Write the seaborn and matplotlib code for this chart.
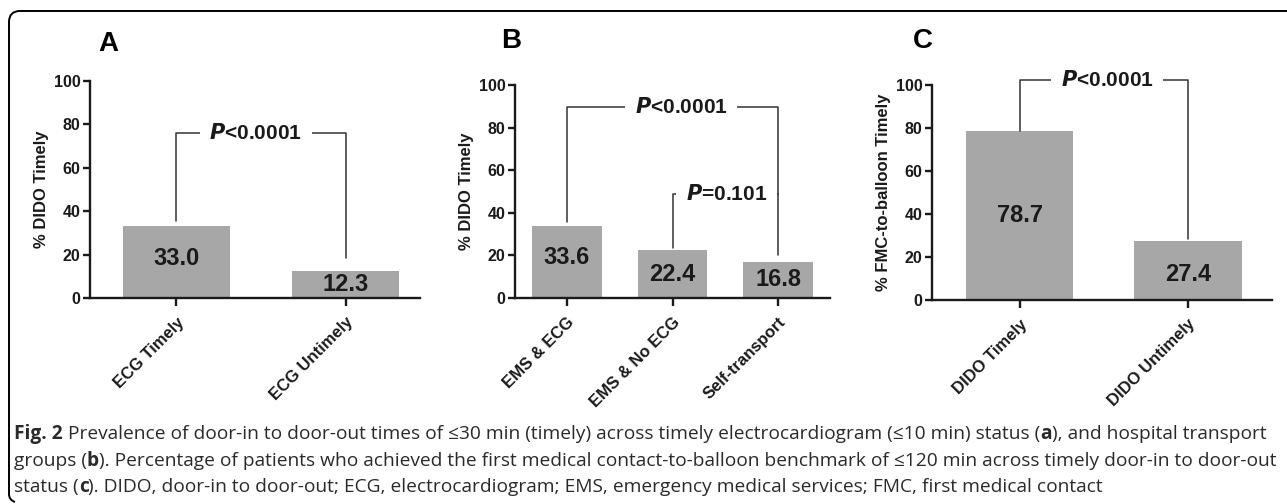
import matplotlib
matplotlib.use("Agg")
import matplotlib.pyplot as plt
import matplotlib.font_manager as fm
from matplotlib.path import Path
from matplotlib.patches import PathPatch
import seaborn as sns

# panel A: timely ECG status
cats_a = ["ECG Timely", "ECG Untimely"]
vals_a = [33.0, 12.3]
# panel B: transport groups
cats_b = ["EMS & ECG", "EMS & No ECG", "Self-transport"]
vals_b = [33.6, 22.4, 16.8]
# panel C: FMC-to-balloon by DIDO status
cats_c = ["DIDO Timely", "DIDO Untimely"]
vals_c = [78.7, 27.4]

W, H = 1287, 504
BAR = "#a7a7a7"
INK = "#1a1a1a"

sns.set_style("ticks")
plt.rcParams["font.family"] = ["Liberation Sans", "DejaVu Sans"]
plt.rcParams["font.weight"] = "bold"

CAP_REG = fm.FontProperties(family=["Open Sans", "DejaVu Sans"], weight="normal")
CAP_BOLD = fm.FontProperties(family=["Open Sans", "DejaVu Sans"], weight="bold")


def px(x0, y0, x1, y1):
    """pixel box (top-left origin) -> figure fraction rect"""
    return [x0 / W, 1 - y1 / H, (x1 - x0) / W, (y1 - y0) / H]


def panel(fig, rect, cats, vals, xlim, width, ylabel, letter, letter_xy, lab_y):
    ax = fig.add_axes(rect)
    ax.set_facecolor("none")
    sns.barplot(x=cats, y=vals, ax=ax, color=BAR, saturation=1,
                width=width, edgecolor="none")
    ax.set_xlim(*xlim)
    ax.set_ylim(0, 100)
    ax.set_yticks([0, 20, 40, 60, 80, 100])
    sns.despine(ax=ax)
    for s in ("left", "bottom"):
        ax.spines[s].set_linewidth(1.7)
        ax.spines[s].set_color(INK)
    ax.tick_params(axis="y", width=1.7, length=5, color=INK,
                   labelsize=11.5, labelcolor=INK, pad=2)
    ax.tick_params(axis="x", width=1.7, length=6, color=INK,
                   labelsize=12, labelcolor=INK, pad=6)
    ax.set_xticks(range(len(cats)))
    ax.set_xticklabels(cats, rotation=45, ha="right", va="top",
                       rotation_mode="anchor", fontsize=12, fontweight="bold")
    for t in ax.get_yticklabels():
        t.set_fontweight("bold")
    ax.set_ylabel(ylabel, fontsize=12, fontweight="bold", color=INK, labelpad=3)
    ax.set_xlabel("")
    for i, (v, y) in enumerate(zip(vals, lab_y)):
        ax.text(i, y, f"{v:.1f}", ha="center", va="center",
                fontsize=17, fontweight="bold", color=INK)
    fig.text(letter_xy[0] / W, 1 - letter_xy[1] / H, letter,
             fontsize=20, fontweight="bold", ha="center", va="center", color="black")
    return ax


def bracket(ax, x0, y0, x1, y1, ytop, label, xt):
    ax.plot([x0, x0, x1, x1], [y0, ytop, ytop, y1], color="#333333",
            lw=1.1, clip_on=False, zorder=3)
    ax.text(xt, ytop, label, ha="center", va="center", fontsize=15,
            fontweight="bold", color=INK, zorder=4,
            bbox=dict(facecolor="white", edgecolor="none", pad=7),
            clip_on=False)


fig = plt.figure(figsize=(W / 100, H / 100), dpi=100)

ax_a = panel(fig, px(90, 81, 420, 298), cats_a, vals_a, (-0.51, 1.44), 0.63,
             "% DIDO Timely", "A", (108, 44), [18.4, 6.0])
bracket(ax_a, 0, 35.5, 1, 18.4, 76, "$\\mathbfit{P}$<0.0001", 0.47)

ax_b = panel(fig, px(515, 85, 830, 298), cats_b, vals_b, (-0.49, 2.49), 0.66,
             "% DIDO Timely", "B", (511, 41), [18.8, 10.8, 8.9])
bracket(ax_b, 0, 35.7, 2, 20.2, 89.7, "$\\mathbfit{P}$<0.0001", 1.08)
bracket(ax_b, 1, 23.5, 2, 48.8, 48.8, "$\\mathbfit{P}$=0.101", 1.51)

ax_c = panel(fig, px(932, 85, 1272, 300), cats_c, vals_c, (-0.52, 1.5), 0.64,
             "% FMC-to-balloon Timely", "C", (923, 41), [39.5, 12.0])
bracket(ax_c, 0, 78.6, 1, 28.4, 102.3, "$\\mathbfit{P}$<0.0001", 0.52)

# frame: top and left edges with rounded corners
r = 11
pts = [(1290, 11), (9 + r, 11), (9, 11), (9, 11 + r), (9, 500 - 6),
       (9, 500), (15, 502)]
codes = [Path.MOVETO, Path.LINETO, Path.CURVE3, Path.CURVE3, Path.LINETO,
         Path.CURVE3, Path.CURVE3]
frame = Path([(x / W, 1 - y / H) for x, y in pts], codes)
fig.patches.append(PathPatch(frame, transform=fig.transFigure, fill=False,
                             lw=1.4, edgecolor="black"))

# caption with mixed weights
lines = [
    [("Fig. 2", True), (" Prevalence of door-in to door-out times of \u226430 min (timely) across timely electrocardiogram (\u226410 min) status (", False),
     ("a", True), ("), and hospital transport", False)],
    [("groups (", False), ("b", True), ("). Percentage of patients who achieved the first medical contact-to-balloon benchmark of \u2264120 min across timely door-in to door-out", False)],
    [("status (", False), ("c", True), ("). DIDO, door-in to door-out; ECG, electrocardiogram; EMS, emergency medical services; FMC, first medical contact", False)],
]
renderer = fig.canvas.get_renderer()


def write_line(runs, y, size):
    x = 14
    made = []
    for txt, bold in runs:
        fp = (CAP_BOLD if bold else CAP_REG).copy()
        fp.set_size(size)
        t = fig.text(x / W, 1 - y / H, txt, fontproperties=fp,
                     color="#2a2a2a", ha="left", va="center")
        x += t.get_window_extent(renderer).width
        made.append(t)
    return x, made


# fit the first line so it ends where the reference's does
size = 12
end, made = write_line(lines[0], 434, size)
for t in made:
    t.remove()
size = size * (1257 - 14) / (end - 14)
for k, runs in enumerate(lines):
    write_line(runs, 434 + k * 26.5, size)

fig.savefig("out.png", dpi=100)
